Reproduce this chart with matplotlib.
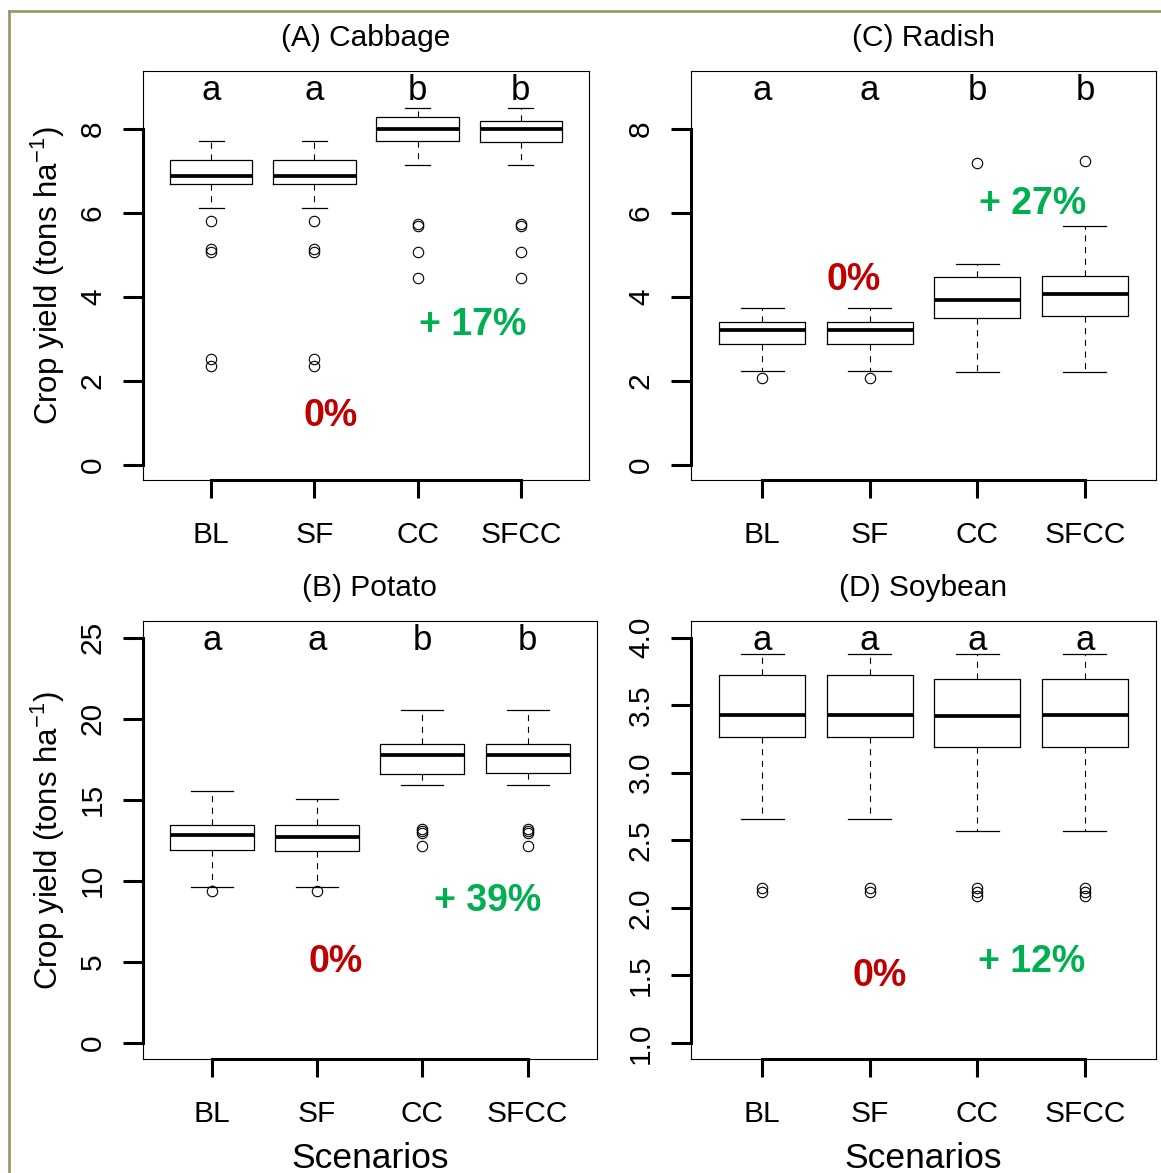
import matplotlib
matplotlib.use("Agg")
import matplotlib.pyplot as plt
from matplotlib.lines import Line2D

plt.rcParams['font.family'] = ['Liberation Sans', 'DejaVu Sans']

# ---------------- data ----------------
categories = ["BL", "SF", "CC", "SFCC"]
positions = [1, 2, 3, 4]

cabbage_med = [6.88, 6.88, 7.99, 7.99]
cabbage_q1 = [6.68, 6.68, 7.71, 7.67]
cabbage_q3 = [7.25, 7.25, 8.27, 8.17]
cabbage_lo = [6.11, 6.11, 7.14, 7.14]
cabbage_hi = [7.71, 7.71, 8.50, 8.50]
cabbage_out = [[5.80, 5.14, 5.07, 2.53, 2.36], [5.80, 5.14, 5.07, 2.53, 2.36],
               [5.72, 5.68, 5.07, 4.45], [5.72, 5.68, 5.07, 4.45]]
cabbage_letters = ["a", "a", "b", "b"]

radish_med = [3.22, 3.22, 3.93, 4.06]
radish_q1 = [2.87, 2.87, 3.50, 3.55]
radish_q3 = [3.41, 3.41, 4.46, 4.50]
radish_lo = [2.24, 2.24, 2.22, 2.22]
radish_hi = [3.72, 3.72, 4.79, 5.69]
radish_out = [[2.06], [2.06], [7.19], [7.22]]
radish_letters = ["a", "a", "b", "b"]

potato_med = [12.82, 12.70, 17.76, 17.78]
potato_q1 = [11.91, 11.86, 16.61, 16.63]
potato_q3 = [13.47, 13.43, 18.46, 18.46]
potato_lo = [9.64, 9.64, 15.91, 15.91]
potato_hi = [15.57, 15.04, 20.54, 20.52]
potato_out = [[9.40], [9.40], [13.20, 13.05, 12.94, 12.15], [13.20, 13.05, 12.94, 12.15]]
potato_letters = ["a", "a", "b", "b"]

soy_med = [3.425, 3.425, 3.422, 3.425]
soy_q1 = [3.263, 3.263, 3.187, 3.187]
soy_q3 = [3.720, 3.720, 3.697, 3.691]
soy_lo = [2.658, 2.658, 2.571, 2.571]
soy_hi = [3.876, 3.876, 3.876, 3.876]
soy_out = [[2.145, 2.12], [2.145, 2.12], [2.15, 2.12, 2.09], [2.15, 2.12, 2.09]]
soy_letters = ["a", "a", "a", "a"]

change_texts = {"cabbage": ("0%", "+ 17%"), "radish": ("0%", "+ 27%"),
                "potato": ("0%", "+ 39%"), "soybean": ("0%", "+ 12%")}

# ---------------- layout / style ----------------
W, H = 1161, 1173
DPI = 100
fig = plt.figure(figsize=(W / DPI, H / DPI), dpi=DPI)


def rect(left, top, right, bottom):
    return [left / W, 1 - bottom / H, (right - left) / W, (bottom - top) / H]


panels = [
    dict(name="cabbage", title="(A) Cabbage", r=rect(143, 71.4, 589, 480),
         med=cabbage_med, q1=cabbage_q1, q3=cabbage_q3, lo=cabbage_lo, hi=cabbage_hi,
         out=cabbage_out, letters=cabbage_letters, ylim=(0, 9), yticks=[0, 2, 4, 6, 8],
         fmt="{:g}", cap=0.24, ylabel=True, xlabel=False,
         pos0=(2.16, 0.93), pos1=(3.53, 3.08)),
    dict(name="radish", title="(C) Radish", r=rect(691, 71.4, 1156, 480),
         med=radish_med, q1=radish_q1, q3=radish_q3, lo=radish_lo, hi=radish_hi,
         out=radish_out, letters=radish_letters, ylim=(0, 9), yticks=[0, 2, 4, 6, 8],
         fmt="{:g}", cap=0.4, ylabel=False, xlabel=False,
         pos0=(1.85, 4.17), pos1=(3.51, 5.97)),
    dict(name="potato", title="(B) Potato", r=rect(142.7, 621.4, 597, 1059.2),
         med=potato_med, q1=potato_q1, q3=potato_q3, lo=potato_lo, hi=potato_hi,
         out=potato_out, letters=potato_letters, ylim=(0, 25), yticks=[0, 5, 10, 15, 20, 25],
         fmt="{:g}", cap=0.4, ylabel=True, xlabel=True,
         pos0=(2.17, 4.39), pos1=(3.62, 8.13)),
    dict(name="soybean", title="(D) Soybean", r=rect(691, 621.4, 1156, 1059.2),
         med=soy_med, q1=soy_q1, q3=soy_q3, lo=soy_lo, hi=soy_hi,
         out=soy_out, letters=soy_letters, ylim=(1, 4), yticks=[1.0, 1.5, 2.0, 2.5, 3.0, 3.5, 4.0],
         fmt="{:.1f}", cap=0.4, ylabel=False, xlabel=True,
         pos0=(2.09, 1.42), pos1=(3.5, 1.527)),
]

GREEN = "#00B050"
RED = "#C00000"
PX = 72 / DPI  # points per pixel

for p in panels:
    ax = fig.add_axes(p["r"])
    stats = []
    for i in range(4):
        stats.append(dict(med=p["med"][i], q1=p["q1"][i], q3=p["q3"][i],
                          whislo=p["lo"][i], whishi=p["hi"][i], fliers=p["out"][i]))
    ax.bxp(stats, positions=positions, widths=0.8, capwidths=p["cap"],
           showfliers=True, manage_ticks=False,
           boxprops=dict(color="black", linewidth=0.9),
           medianprops=dict(color="black", linewidth=2.7, solid_capstyle="butt"),
           whiskerprops=dict(color="black", linewidth=0.8, linestyle=(0, (5.5, 5))),
           capprops=dict(color="black", linewidth=0.9),
           flierprops=dict(marker="o", markerfacecolor="none", markeredgecolor="black",
                           markersize=7.5, markeredgewidth=0.8, linestyle="none"))

    y0, y1 = p["ylim"]
    ext = 0.04 * (y1 - y0)
    ax.set_ylim(y0 - ext, y1 + ext)
    ax.set_xlim(0.5 - 0.16, 4.5 + 0.16)

    for s in ax.spines.values():
        s.set_linewidth(0.8)
        s.set_color("black")

    ax.set_xticks(positions)
    ax.set_xticklabels(categories)
    ax.set_yticks(p["yticks"])
    ax.set_yticklabels([p["fmt"].format(v) for v in p["yticks"]])
    ax.tick_params(axis="x", direction="out", length=18 * PX, width=2.2,
                   labelsize=21.5, pad=23 * PX)
    ax.tick_params(axis="y", direction="out", length=20 * PX, width=2.2,
                   labelsize=21.5, pad=16 * PX)
    for lab in ax.get_yticklabels():
        lab.set_rotation(90)
        lab.set_va("center")

    # thick R-style axis lines spanning first to last tick
    ax.plot([positions[0], positions[-1]], [0, 0], color="black", lw=2.2,
            transform=ax.get_xaxis_transform(), clip_on=False, solid_capstyle="projecting")
    ax.plot([0, 0], [p["yticks"][0], p["yticks"][-1]], color="black", lw=2.2,
            transform=ax.get_yaxis_transform(), clip_on=False, solid_capstyle="projecting")

    ax.set_title(p["title"], fontsize=21.5, pad=25 * PX)

    # significance letters
    for xpos, let in zip(positions, p["letters"]):
        ax.annotate(let, xy=(xpos, 1), xycoords=("data", "axes fraction"),
                    xytext=(0, -29 * PX), textcoords="offset points",
                    ha="center", va="baseline", fontsize=25)

    t0, t1 = change_texts[p["name"]]
    ax.text(p["pos0"][0], p["pos0"][1], t0, color=RED, fontweight="bold",
            fontsize=27, ha="center", va="baseline")
    ax.text(p["pos1"][0], p["pos1"][1], t1, color=GREEN, fontweight="bold",
            fontsize=27, ha="center", va="baseline")

    if p["ylabel"]:
        ax.annotate(r"Crop yield (tons ha$\mathregular{^{-1}}$)",
                    xy=(0, 0.5), xycoords="axes fraction",
                    xytext=(-(p["r"][0] * W - 58) * PX, 0), textcoords="offset points",
                    rotation=90, rotation_mode="anchor", ha="center", va="baseline",
                    fontsize=22.5)
    if p["xlabel"]:
        ax.annotate("Scenarios", xy=(0.5, 0), xycoords="axes fraction",
                    xytext=(0, -108.5 * PX), textcoords="offset points",
                    ha="center", va="baseline", fontsize=25.5)

# olive frame lines (top and left)
border = "#9B9565"
fig.add_artist(Line2D([8.5 / W, 8.5 / W], [0, 1 - 10.5 / H], color=border, lw=1.9,
                      transform=fig.transFigure, solid_capstyle="projecting"))
fig.add_artist(Line2D([8.5 / W, 1], [1 - 10.5 / H, 1 - 10.5 / H], color=border, lw=1.9,
                      transform=fig.transFigure, solid_capstyle="projecting"))

fig.savefig("out.png", dpi=DPI, facecolor="white")
